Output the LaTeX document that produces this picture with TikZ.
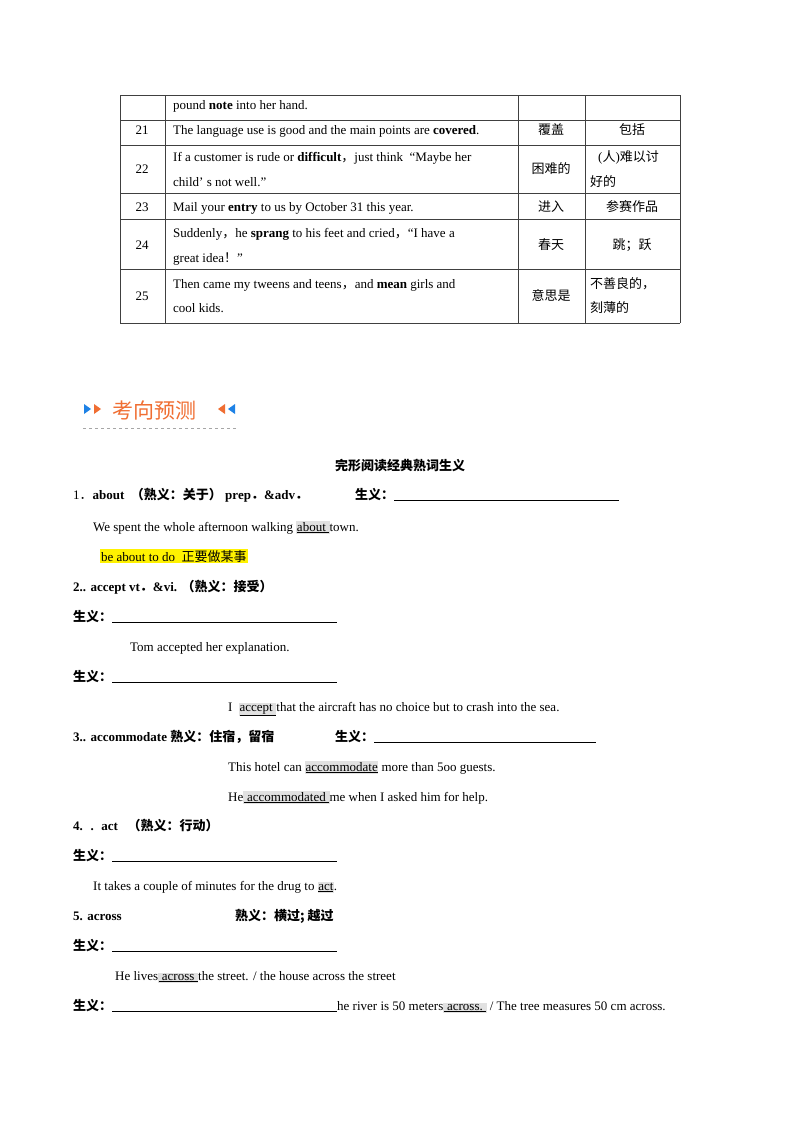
\documentclass[tikz,border=0pt]{standalone}
\usepackage{fontspec}
\setmainfont{Liberation Serif}
\newfontfamily\cjk{Noto Sans CJK SC}
\newcommand{\C}[1]{{\cjk #1}}
\newcommand{\CB}[1]{{\cjk\bfseries #1}}
\definecolor{shade}{RGB}{225,225,225}
\definecolor{orng}{RGB}{240,110,50}
\definecolor{blu}{RGB}{30,130,230}
\newcommand{\sh}[1]{{\setlength\fboxsep{0.5pt}\colorbox{shade}{\underline{#1}}}}
\newcommand{\blank}[1]{\rule[-2pt]{#1pt}{0.8pt}}
\begin{document}
\begin{tikzpicture}[x=1pt,y=-1pt,
  t/.style={anchor=base west,inner sep=0pt,font=\fontsize{13}{15}\selectfont},
  c/.style={anchor=base,inner sep=0pt,font=\fontsize{13}{15}\selectfont},
  grid/.style={line width=0.8pt,draw=black!75}]
\useasboundingbox[fill=white] (0,0) rectangle (800,1132);
% table
\foreach \y in {95,120,145,193,219,269,323} \draw[grid] (120,\y) -- (680,\y);
\foreach \x in {120,165,518,585,680} \draw[grid] (\x,95) -- (\x,323);
\node[t] (r0) at (173,109) {pound \textbf{note} into her hand.};
\node[c] (n21) at (142,134) {21};
\node[t] (r21) at (173,134) {The language use is good and the main points are \textbf{covered}.};
\node[c] (a21) at (551,134) {\C{覆盖}};
\node[c] (b21) at (632,134) {\C{包括}};
\node[c] (n22) at (142,173) {22};
\node[t] (r22a) at (173,161) {If a customer is rude or \textbf{difficult}\C{，}just think \ “Maybe her};
\node[t] (r22b) at (173,186) {child’ s not well.”};
\node[c] (a22) at (551,173) {\C{困难的}};
\node[t] (b22a) at (598,161) {(\C{人})\C{难以讨}};
\node[t] (b22b) at (590,186) {\C{好的}};
\node[c] (n23) at (142,211) {23};
\node[t] (r23) at (173,211) {Mail your \textbf{entry} to us by October 31 this year.};
\node[c] (a23) at (551,211) {\C{进入}};
\node[c] (b23) at (632,211) {\C{参赛作品}};
\node[c] (n24) at (142,249) {24};
\node[t] (r24a) at (173,237) {Suddenly\C{，}he \textbf{sprang} to his feet and cried\C{，}“I have a};
\node[t] (r24b) at (173,262) {great idea\C{！}”};
\node[c] (a24) at (551,249) {\C{春天}};
\node[c] (b24) at (632,249) {\C{跳；跃}};
\node[c] (n25) at (142,300) {25};
\node[t] (r25a) at (173,288) {Then came my tweens and teens\C{，}and \textbf{mean} girls and};
\node[t] (r25b) at (173,312) {cool kids.};
\node[c] (a25) at (551,300) {\C{意思是}};
\node[t] (b25a) at (590,288) {\C{不善良的，}};
\node[t] (b25b) at (590,312) {\C{刻薄的}};
% header
\fill[blu] (84,404) -- (91,409) -- (84,414) -- cycle;
\fill[orng] (94,404) -- (101,409) -- (94,414) -- cycle;
\fill[orng] (225,404) -- (218,409) -- (225,414) -- cycle;
\fill[blu] (235,404) -- (228,409) -- (235,414) -- cycle;
\node[anchor=west,inner sep=0pt,text=orng,font=\fontsize{21}{24}\selectfont] (hd) at (112,410) {\C{考向预测}};
\draw[black!35,dashed,line width=0.6pt] (83,428) -- (237,428);
% body
\node[c] (title) at (400,470) {\CB{完形阅读经典熟词生义}};
\node[t] (l1) at (73,499) {1\C{．}\textbf{about \ \CB{（熟义：关于）} prep\CB{．}\&adv\CB{．}}};
\node[t] (s1) at (355,499) {\CB{生义：}\blank{225}};
\node[t] (e1) at (93,531) {We spent the whole afternoon walking \sh{about\ }town.};
\node[t] (hl) at (100,561) {{\setlength\fboxsep{1pt}\colorbox{yellow}{be about to do \ \C{正要做某事}}}};
\node[t] (l2) at (73,591) {\textbf{2.. accept vt\CB{．}\&vi. \CB{（熟义：接受）}}};
\node[t] (s2a) at (73,621) {\CB{生义：}\blank{225}};
\node[t] (e2a) at (130,651) {Tom accepted her explanation.};
\node[t] (s2b) at (73,681) {\CB{生义：}\blank{225}};
\node[t] (e2b) at (228,711) {I \ \sh{accept\ }that the aircraft has no choice but to crash into the sea.};
\node[t] (l3) at (73,741) {\textbf{3.. accommodate \CB{熟义：住宿，留宿}}};
\node[t] (s3) at (335,741) {\CB{生义：}\blank{222}};
\node[t] (e3a) at (228,771) {This hotel can \sh{accommodate} more than 5oo guests.};
\node[t] (e3b) at (228,801) {He\sh{ accommodated\ }me when I asked him for help.};
\node[t] (l4) at (73,830) {\textbf{4. \ . \ act \ \ \CB{（熟义：行动）}}};
\node[t] (s4) at (73,860) {\CB{生义：}\blank{225}};
\node[t] (e4) at (93,890) {It takes a couple of minutes for the drug to \sh{act}.};
\node[t] (l5) at (73,920) {\textbf{5. across}};
\node[t] (l5b) at (235,920) {\CB{熟义：横过; 越过}};
\node[t] (s5) at (73,950) {\CB{生义：}\blank{225}};
\node[t] (e5) at (115,980) {He lives\sh{ across\ }the street. / the house across the street};
\node[t] (s5b) at (73,1010) {\CB{生义：}\blank{225}he river is 50 meters\sh{ across.\ } / The tree measures 50 cm across.};
\end{tikzpicture}
\end{document}
